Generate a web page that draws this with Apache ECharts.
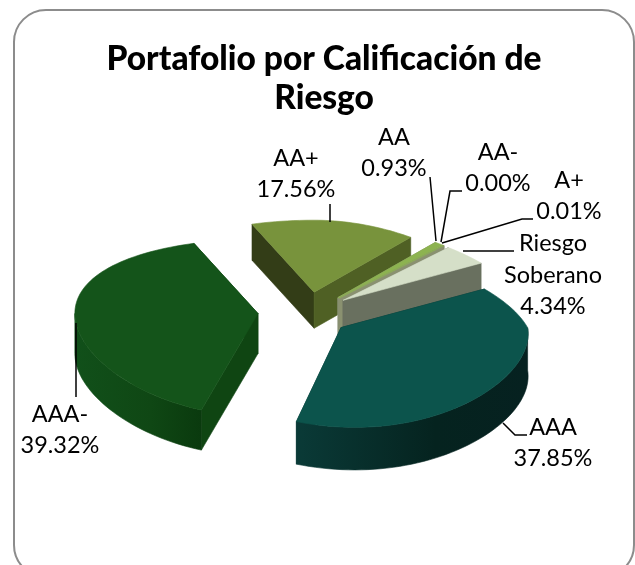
<!DOCTYPE html>
<html>

<head>
<meta charset="utf-8" />
<title>Portafolio por Calificación de Riesgo</title>
<script src="https://cdn.jsdelivr.net/npm/echarts@6/dist/echarts.min.js"></script>
<style>
html, body { margin: 0; padding: 0; background: #fff; }
</style>
</head>

<body>
<div id="main" style="width: 635px;height:565px;"></div>
<script type="text/javascript">
// data, clockwise from the first slice
var categories = ['AAA-', 'AA+', 'AA', 'AA-', 'A+', 'Riesgo\nSoberano', 'AAA'];
var shares = [39.32, 17.56, 0.93, 0.00, 0.01, 4.34, 37.85];

// colours: top face, first cut wall, second cut wall, rim gradient stops
var sliceColors = [
  { top: '#14541a', wallA: '#0f4512', wallB: '#0f4512', rim: ['#11501a', '#0f4714', '#0a3a0e'] },
  { top: '#78933c', wallA: '#333d17', wallB: '#4f6024', rim: ['#4f6024', '#4f6024', '#4f6024'] },
  { top: '#8db350', wallA: '#8a9170', wallB: '#9aa08e', rim: ['#8a9170', '#8a9170', '#8a9170'] },
  { top: '#8db350', wallA: '#8a9170', wallB: '#8a9170', rim: ['#8a9170', '#8a9170', '#8a9170'] },
  { top: '#8db350', wallA: '#8a9170', wallB: '#8a9170', rim: ['#8a9170', '#8a9170', '#8a9170'] },
  { top: '#d5dfc8', wallA: '#69705f', wallB: '#69705f', rim: ['#69705f', '#69705f', '#69705f'] },
  { top: '#0c544c', wallA: '#073330', wallB: '#073330', rim: ['#0a3a37', '#05231f', '#062120'] }
];

// back slices first so the near ones paint over them
var drawOrder = [1, 2, 3, 4, 5, 0, 6];

// label centre + leader line for each slice
var labelLayout = [
  { x: 60, y: 430, line: [[76, 323], [76, 397]] },
  { x: 296, y: 174, line: [[330, 204], [330, 222]] },
  { x: 394, y: 153, line: [[430, 177], [436, 241]] },
  { x: 498, y: 168, line: [[462, 191], [450, 191], [441, 242]] },
  { x: 569, y: 196, line: [[533, 219], [522, 219], [442, 243]] },
  { x: 553, y: 275, line: [[514, 251], [463, 251]] },
  { x: 553, y: 443, line: [[527, 435], [515, 435], [503, 423]] }
];

var START_ANGLE = 198;
var CX = 305, CY = 313, R = 183, EXPLODE = 0.257, DEPTH = 40;
var K = 0.47, Q = 0.16, BACK_SQUEEZE = 0.27, NEAR_LEAN = 0.095;

function rad(a) { return a * Math.PI / 180; }

// flatten a point of the pie plane to the screen, the near side opens up more
function flat(x, y, lean) {
  var sx = x;
  var sy = K * y / (1 - Q * y);
  if (x > 0 && y < 0) sx = x * (1 + BACK_SQUEEZE * y);
  if (y > 0) {
    sx = x + lean * y;
    sy = sy * (1 - 0.6 * lean);
  }
  return [sx, sy];
}

var total = shares.reduce(function (s, v) { return s + v; }, 0);
var slices = [];
var angle = START_ANGLE;
shares.forEach(function (v, i) {
  var sweep = v / total * 360;
  var a0 = angle >= 360 ? angle - 360 : angle;
  slices.push({ a0: a0, a1: a0 + sweep });
  angle = a0 + sweep;
});

function face(points, fill) {
  return {
    type: 'polygon',
    shape: { points: points },
    style: { fill: fill, stroke: fill, lineWidth: 0.6 }
  };
}

function renderSlice(params, api) {
  var idx = api.value(0);
  var s = slices[idx];
  var c = sliceColors[idx];
  var mid = rad((s.a0 + s.a1) / 2);
  var ey = -Math.cos(mid);
  var ex = Math.sin(mid);
  var apex = [CX + EXPLODE * ex * R, CY + K * EXPLODE * ey / (1 - Q * EXPLODE * ey) * R];
  var r = R * (1 + 0.03 * ey);
  var d = DEPTH * (1 + 0.1 * ey);
  var lean = NEAR_LEAN * Math.max(0, ex);

  function pt(a) {
    var p = flat(Math.sin(rad(a)), -Math.cos(rad(a)), lean);
    return [apex[0] + p[0] * r, apex[1] + p[1] * r];
  }
  function down(p) { return [p[0], p[1] + d]; }
  function wall(a, b, fill) {
    return face([a, b, down(b), down(a)], fill);
  }

  var arc = [];
  var n = Math.max(2, Math.ceil((s.a1 - s.a0) / 2));
  for (var i = 0; i <= n; i++) {
    arc.push(pt(s.a0 + (s.a1 - s.a0) * i / n));
  }

  var kids = [];
  kids.push(wall(apex, arc[0], c.wallA));
  kids.push(wall(apex, arc[n], c.wallB));

  // rim, only the part that faces the viewer
  var front = [];
  for (var a = Math.max(s.a0, 90); a <= Math.min(s.a1, 270) + 0.01; a += 2) {
    front.push(pt(a));
  }
  if (front.length > 1) {
    var rim = front.concat(front.map(down).reverse());
    kids.push(face(rim, new echarts.graphic.LinearGradient(0, 0, 1, 0, [
      { offset: 0, color: c.rim[0] },
      { offset: 0.6, color: c.rim[1] },
      { offset: 1, color: c.rim[2] }
    ])));
  }

  kids.push(face([apex].concat(arc), c.top));
  return { type: 'group', children: kids };
}

var labelGraphics = [];
categories.forEach(function (name, i) {
  var l = labelLayout[i];
  labelGraphics.push({
    type: 'polyline',
    shape: { points: l.line },
    style: { stroke: '#000', lineWidth: 1.5, fill: null },
    z: 10
  });
  labelGraphics.push({
    type: 'text',
    x: l.x,
    y: l.y,
    style: {
      text: name + '\n' + shares[i].toFixed(2) + '%',
      fill: '#000',
      font: '23.5px Lato',
      lineHeight: 31.5,
      align: 'center',
      verticalAlign: 'middle'
    },
    z: 10
  });
});

var myChart = echarts.init(document.getElementById('main'));

var option = {
  animation: false,
  title: {
    text: 'Portafolio por Calificación de\nRiesgo',
    left: 319,
    top: 35,
    textAlign: 'center',
    textStyle: { fontFamily: 'Lato', fontWeight: 900, fontSize: 33.5, lineHeight: 39, color: '#000' }
  },
  graphic: [{
    type: 'rect',
    shape: { x: 14, y: 10, width: 620, height: 567, r: 32 },
    style: { fill: '#fff', stroke: '#8c8c8c', lineWidth: 2 },
    z: -1
  }].concat(labelGraphics),
  series: [{
    type: 'custom',
    coordinateSystem: 'none',
    renderItem: renderSlice,
    data: drawOrder.map(function (i) { return [i]; }),
    silent: true
  }]
};

myChart.setOption(option);
</script>
</body>

</html>
